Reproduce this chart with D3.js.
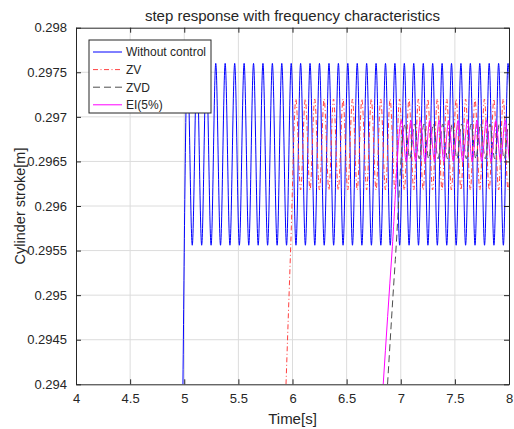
<!DOCTYPE html>
<html>
<head>
<meta charset="utf-8">
<script src="https://cdn.jsdelivr.net/npm/d3@7"></script>
<style>
  body { margin: 0; background: #fff; }
  text { font-family: "Liberation Sans", Arial, sans-serif; fill: #262626; }
</style>
</head>
<body>
<svg width="514" height="429"></svg>
<script>
// axis ticks
var xTicks = [4, 4.5, 5, 5.5, 6, 6.5, 7, 7.5, 8];
var yTicks = [0.294, 0.2945, 0.295, 0.2955, 0.296, 0.2965, 0.297, 0.2975, 0.298];
var yTickLabels = ["0.294", "0.2945", "0.295", "0.2955", "0.296", "0.2965", "0.297", "0.2975", "0.298"];

// Without control: rising edge, then peaks / troughs
var noCtrlRise = [[4.988, 0.2940]];
var noCtrlPeakT = [5.030, 5.117, 5.204, 5.291, 5.378, 5.466, 5.553, 5.640, 5.727, 5.814, 5.901, 5.988,
    6.075, 6.162, 6.249, 6.337, 6.424, 6.511, 6.598, 6.685, 6.772, 6.859, 6.946, 7.033, 7.120, 7.208,
    7.295, 7.382, 7.469, 7.556, 7.643, 7.730, 7.817, 7.904, 7.991];
var noCtrlTroughT = [5.074, 5.161, 5.248, 5.335, 5.422, 5.509, 5.596, 5.683, 5.770, 5.858, 5.945, 6.032,
    6.119, 6.206, 6.293, 6.380, 6.467, 6.554, 6.641, 6.729, 6.816, 6.903, 6.990, 7.077, 7.164, 7.251,
    7.338, 7.425, 7.512, 7.599, 7.686, 7.774, 7.861, 7.948, 8.035];
var noCtrlLevels = [0.29760, 0.29556];

// ZV
var zvRise = [[5.940, 0.2940], [5.985, 0.2956]];
var zvPeakT = [6.031, 6.118, 6.205, 6.292, 6.379, 6.467, 6.554, 6.641, 6.728, 6.815, 6.902, 6.989,
    7.076, 7.163, 7.250, 7.338, 7.425, 7.512, 7.599, 7.686, 7.773, 7.860, 7.947, 8.034];
var zvTroughT = [6.075, 6.162, 6.249, 6.336, 6.423, 6.510, 6.598, 6.685, 6.772, 6.859, 6.946, 7.033,
    7.120, 7.207, 7.294, 7.381, 7.468, 7.556, 7.643, 7.730, 7.817, 7.904, 7.991];
var zvLevels = [0.29720, 0.29618];

// ZVD
var zvdRise = [[6.878, 0.2940], [6.950, 0.2954]];
var zvdPeakT = [7.040, 7.127, 7.214, 7.301, 7.388, 7.476, 7.563, 7.650, 7.737, 7.824, 7.911, 7.998];
var zvdTroughT = [7.084, 7.171, 7.258, 7.345, 7.432, 7.519, 7.606, 7.694, 7.781, 7.868, 7.955, 8.042];
var zvdLevels = [0.29692, 0.29653];

// EI(5%)
var eiRise = [[6.838, 0.2940], [6.920, 0.2955]];
var eiPeakT = [7.007, 7.094, 7.181, 7.268, 7.355, 7.443, 7.530, 7.617, 7.704, 7.791, 7.878, 7.965, 8.052];
var eiTroughT = [7.051, 7.138, 7.225, 7.312, 7.399, 7.486, 7.573, 7.661, 7.748, 7.835, 7.922, 8.009];
var eiLevels = [0.29696, 0.29650];

function buildSeries(rise, peakT, troughT, levels) {
    var pts = rise.map(function (p) { return { t: p[0], v: p[1] }; });
    var ext = peakT.map(function (t) { return { t: t, v: levels[0] }; })
        .concat(troughT.map(function (t) { return { t: t, v: levels[1] }; }));
    ext.sort(function (a, b) { return a.t - b.t; });
    return pts.concat(ext);
}

var series = [
    { name: "Without control", color: "#0000ff", dash: null, data: buildSeries(noCtrlRise, noCtrlPeakT, noCtrlTroughT, noCtrlLevels) },
    { name: "ZV", color: "#ff4040", dash: "5,2.5,1,2.5", data: buildSeries(zvRise, zvPeakT, zvTroughT, zvLevels) },
    { name: "ZVD", color: "#4d4d4d", dash: "7,4", data: buildSeries(zvdRise, zvdPeakT, zvdTroughT, zvdLevels) },
    { name: "EI(5%)", color: "#ff00ff", dash: null, data: buildSeries(eiRise, eiPeakT, eiTroughT, eiLevels) }
];

var svg = d3.select("svg");
var margin = { left: 76, right: 5, top: 27.7, bottom: 44.7 };
var width = 514 - margin.left - margin.right,
    height = 429 - margin.top - margin.bottom;

var x = d3.scaleLinear().domain([4, 8]).range([0, width]);
var y = d3.scaleLinear().domain([0.294, 0.298]).range([height, 0]);

var g = svg.append("g").attr("transform", "translate(" + margin.left + "," + margin.top + ")");

// grid
g.append("g").selectAll("line").data(xTicks.slice(1, -1)).enter().append("line")
    .attr("x1", function (d) { return x(d); }).attr("x2", function (d) { return x(d); })
    .attr("y1", 0).attr("y2", height)
    .attr("stroke", "#dcdcdc").attr("stroke-width", 1);
g.append("g").selectAll("line").data(yTicks.slice(1, -1)).enter().append("line")
    .attr("y1", function (d) { return y(d); }).attr("y2", function (d) { return y(d); })
    .attr("x1", 0).attr("x2", width)
    .attr("stroke", "#dcdcdc").attr("stroke-width", 1);

svg.append("clipPath").attr("id", "plotclip").append("rect")
    .attr("width", width).attr("height", height);

var line = d3.line()
    .x(function (d) { return x(d.t); })
    .y(function (d) { return y(d.v); })
    .curve(d3.curveMonotoneX);

var lines = g.append("g").attr("clip-path", "url(#plotclip)");
series.forEach(function (s) {
    lines.append("path")
        .datum(s.data)
        .attr("d", line)
        .attr("fill", "none")
        .attr("stroke", s.color)
        .attr("stroke-width", 1)
        .attr("stroke-dasharray", s.dash);
});

// axes
var xAxis = d3.axisBottom(x).tickValues(xTicks).tickSizeInner(-5).tickSizeOuter(0).tickPadding(9)
    .tickFormat(d3.format("~g"));
var yAxis = d3.axisLeft(y).tickValues(yTicks).tickSizeInner(-5).tickSizeOuter(0).tickPadding(9)
    .tickFormat(function (d, i) { return yTickLabels[i]; });

var gx = g.append("g").attr("transform", "translate(0," + height + ")").call(xAxis);
var gy = g.append("g").call(yAxis);
var gxt = g.append("g").call(d3.axisTop(x).tickValues(xTicks).tickSizeInner(-5).tickSizeOuter(0).tickFormat(""));
var gyr = g.append("g").attr("transform", "translate(" + width + ",0)")
    .call(d3.axisRight(y).tickValues(yTicks).tickSizeInner(-5).tickSizeOuter(0).tickFormat(""));

[gx, gy, gxt, gyr].forEach(function (a) {
    a.selectAll("path").attr("stroke", "#262626");
    a.selectAll("line").attr("stroke", "#262626");
    a.selectAll("text").style("font-size", "13px").style("fill", "#262626")
        .style("font-family", "'Liberation Sans', Arial, sans-serif");
});

// titles
svg.append("text")
    .attr("x", margin.left + width / 2).attr("y", 21)
    .attr("text-anchor", "middle").style("font-size", "15px")
    .text("step response with frequency characteristics");
svg.append("text")
    .attr("x", margin.left + width / 2).attr("y", 424)
    .attr("text-anchor", "middle").style("font-size", "15px")
    .text("Time[s]");
svg.append("text")
    .attr("transform", "translate(25," + (margin.top + height / 2) + ") rotate(-90)")
    .attr("text-anchor", "middle").style("font-size", "14.5px")
    .text("Cylinder stroke[m]");

// legend
var legend = svg.append("g").attr("transform", "translate(89,40)");
legend.append("rect").attr("width", 122).attr("height", 73)
    .attr("fill", "#fff").attr("stroke", "#262626").attr("stroke-width", 1);
series.forEach(function (s, i) {
    var ly = 12 + i * 17.6;
    legend.append("line")
        .attr("x1", 4).attr("x2", 33).attr("y1", ly).attr("y2", ly)
        .attr("stroke", s.color).attr("stroke-width", 1)
        .attr("stroke-dasharray", s.dash);
    legend.append("text")
        .attr("x", 37).attr("y", ly + 4.3)
        .style("font-size", "12px")
        .text(s.name);
});
</script>
</body>
</html>
